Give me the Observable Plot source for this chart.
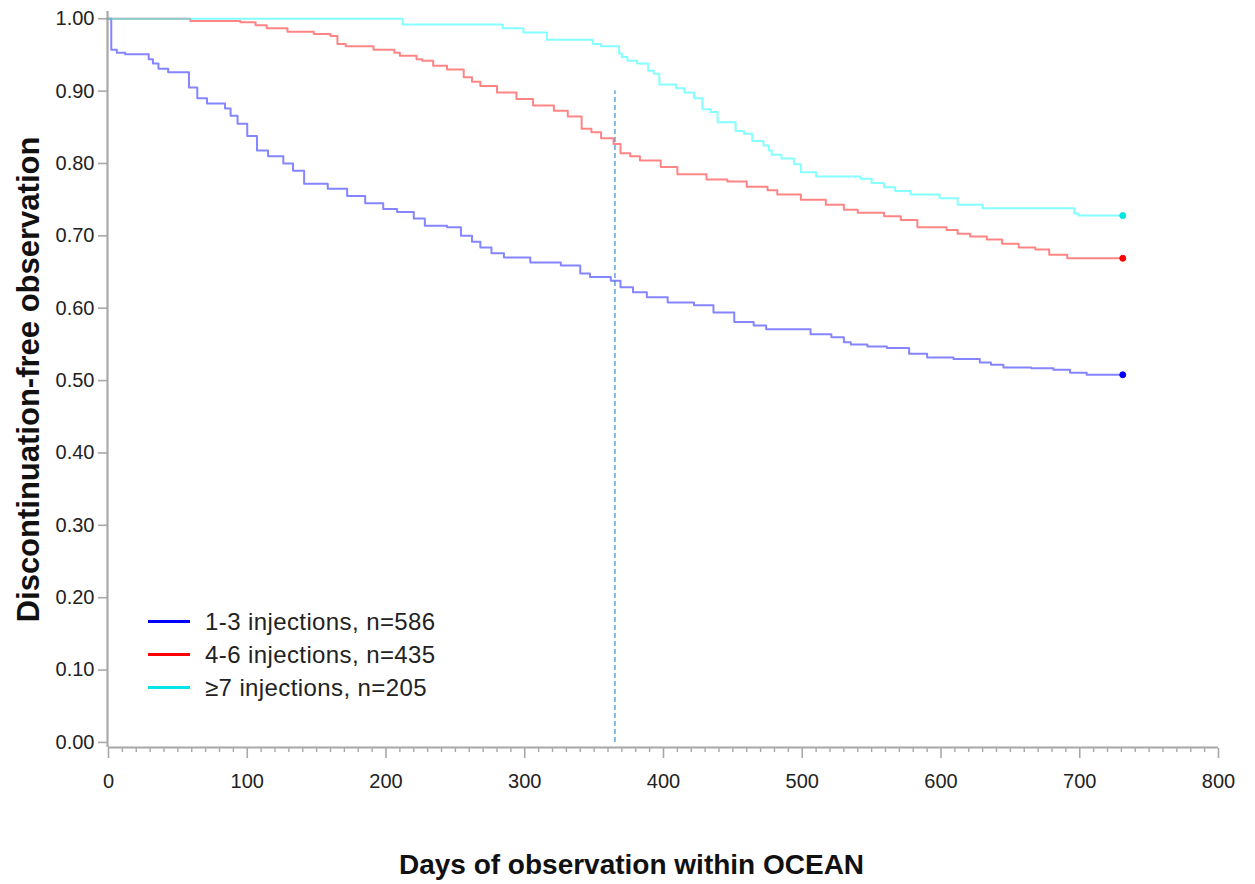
<!DOCTYPE html>
<html>
<head>
<meta charset="utf-8">
<script src="https://cdn.jsdelivr.net/npm/d3@7"></script>
<script src="https://cdn.jsdelivr.net/npm/@observablehq/plot@0.6"></script>
<style>
  html, body { margin: 0; padding: 0; background: #fff; }
  #wrap { position: relative; width: 1255px; height: 884px; font-family: "Liberation Sans", Arial, sans-serif; color: #222; }
  #legend { position: absolute; left: 148px; top: 605px; }
  .row { display: flex; align-items: center; height: 33px; }
  .sw { width: 42px; height: 2.5px; margin-right: 15px; }
  .lab { font-size: 24px; letter-spacing: 0.4px; color: #222; white-space: nowrap; }
</style>
</head>
<body>
<div id="wrap"><div id="legend"></div></div>
<script>
// ---- data ----
const groups = ["1-3 injections, n=586", "4-6 injections, n=435", "\u22657 injections, n=205"];
const lineColors = ["#3333ff", "#ff3333", "#33ffff"];
const legendColors = ["#0000ff", "#ff0000", "#00e5e5"];

const days1_3 = [0, 2, 6, 12, 29, 32, 36, 43, 58, 64, 71, 84, 88, 93, 100, 107, 115, 126, 133, 141, 158, 172, 185, 198, 208, 220, 228, 244, 254, 262, 268, 276, 285, 304, 326, 340, 347, 362, 369, 378, 388, 403, 422, 436, 451, 465, 474, 506, 521, 530, 535, 547, 561, 577, 590, 609, 628, 636, 645, 665, 681, 693, 705, 731];
const surv1_3 = [1.0, 0.957, 0.953, 0.951, 0.944, 0.938, 0.931, 0.926, 0.905, 0.890, 0.883, 0.876, 0.866, 0.855, 0.838, 0.818, 0.810, 0.800, 0.790, 0.772, 0.765, 0.755, 0.745, 0.737, 0.733, 0.724, 0.714, 0.712, 0.700, 0.692, 0.684, 0.676, 0.670, 0.663, 0.659, 0.648, 0.643, 0.638, 0.629, 0.622, 0.615, 0.608, 0.604, 0.594, 0.581, 0.576, 0.571, 0.564, 0.560, 0.553, 0.550, 0.547, 0.545, 0.537, 0.532, 0.530, 0.525, 0.522, 0.518, 0.517, 0.515, 0.511, 0.508, 0.508];

const days4_6 = [0, 59, 95, 106, 114, 129, 148, 160, 165, 171, 191, 206, 210, 222, 226, 234, 244, 256, 262, 268, 280, 294, 306, 321, 331, 341, 348, 355, 364, 369, 376, 383, 398, 410, 431, 446, 460, 475, 482, 499, 517, 530, 540, 559, 571, 583, 604, 612, 621, 633, 644, 656, 668, 678, 691, 731];
const surv4_6 = [1.0, 0.997, 0.995, 0.991, 0.987, 0.982, 0.979, 0.976, 0.965, 0.962, 0.957, 0.953, 0.949, 0.944, 0.942, 0.935, 0.930, 0.919, 0.913, 0.907, 0.898, 0.889, 0.880, 0.873, 0.865, 0.848, 0.843, 0.835, 0.827, 0.814, 0.810, 0.804, 0.795, 0.785, 0.778, 0.775, 0.768, 0.763, 0.757, 0.750, 0.743, 0.736, 0.732, 0.727, 0.722, 0.712, 0.708, 0.703, 0.699, 0.695, 0.689, 0.684, 0.681, 0.674, 0.669, 0.669];

const days7 = [0, 212, 284, 299, 316, 349, 355, 368, 370, 374, 381, 389, 393, 397, 409, 415, 422, 428, 434, 439, 452, 458, 464, 472, 476, 478, 485, 494, 499, 510, 542, 550, 559, 567, 578, 599, 612, 630, 696, 699, 731];
const surv7 = [1.0, 0.992, 0.987, 0.981, 0.971, 0.965, 0.962, 0.952, 0.947, 0.942, 0.938, 0.928, 0.924, 0.909, 0.904, 0.898, 0.890, 0.875, 0.871, 0.857, 0.845, 0.841, 0.831, 0.825, 0.818, 0.812, 0.807, 0.799, 0.788, 0.782, 0.779, 0.773, 0.767, 0.762, 0.757, 0.752, 0.743, 0.738, 0.731, 0.728, 0.728];

const censorDay = 731;
const landmarkDay = 365;
const landmarkTop = 0.90;

const xTicks = [0, 100, 200, 300, 400, 500, 600, 700, 800];
const xMinorTicks = d3.range(0, 801, 10).filter(d => d % 100 !== 0);
const yTicks = [0, 0.1, 0.2, 0.3, 0.4, 0.5, 0.6, 0.7, 0.8, 0.9, 1.0];
const xDomain = [0, 800];
const yDomain = [-0.007, 1.01];

const yTitle = "Discontinuation-free observation";
const xTitle = "Days of observation within OCEAN";

// ---- build table ----
const series = [[days1_3, surv1_3], [days4_6, surv4_6], [days7, surv7]];
const rows = [];
const ends = [];
series.forEach(([ds, ss], i) => {
  ds.forEach((d, j) => rows.push({group: groups[i], day: d, surv: ss[j]}));
  ends.push({group: groups[i], day: censorDay, surv: ss[ss.length - 1]});
});

const axisGray = "#a8a8a8";
const font = "'Liberation Sans', Arial, sans-serif";

const chart = Plot.plot({
  width: 1255,
  height: 884,
  marginLeft: 108,
  marginRight: 37,
  marginTop: 11,
  marginBottom: 137,
  style: {fontFamily: font, color: "#222", background: "#fff", overflow: "visible"},
  x: {domain: xDomain, label: null},
  y: {domain: yDomain, label: null},
  color: {domain: groups, range: lineColors},
  marks: [
    // axis lines
    Plot.ruleX([xDomain[0]], {y1: yDomain[0], y2: yDomain[1], stroke: axisGray, strokeWidth: 2.2, dx: -1}),
    Plot.ruleY([yDomain[0]], {x1: xDomain[0], x2: xDomain[1], stroke: axisGray, strokeWidth: 2.2}),
    // y ticks & labels
    Plot.axisY(yTicks, {tickSize: 9, text: null, label: null, stroke: axisGray, strokeWidth: 1.6, dx: -1}),
    Plot.axisY(yTicks, {tickSize: 0, tickPadding: 14, label: null, tickFormat: d3.format(".2f"), fontSize: 20, fill: "#222"}),
    // x ticks & labels
    Plot.axisX(xTicks, {tickSize: 10, text: null, label: null, stroke: axisGray, strokeWidth: 1.6, dy: 1}),
    Plot.axisX(xMinorTicks, {tickSize: 4, text: null, label: null, stroke: axisGray, strokeWidth: 1.4, dy: 1}),
    Plot.axisX(xTicks, {tickSize: 0, tickPadding: 26, label: null, fontSize: 20, fill: "#222"}),
    // landmark line
    Plot.ruleX([landmarkDay], {y1: 0, y2: landmarkTop, stroke: "#5b9bd5", strokeWidth: 1.4, strokeDasharray: "5,3"}),
    // KM curves
    Plot.line(rows, {x: "day", y: "surv", z: "group", stroke: "group", curve: "step-after", strokeWidth: 2, strokeOpacity: 0.6}),
    Plot.dot(ends, {x: "day", y: "surv", fill: (d, i) => legendColors[i], stroke: (d, i) => legendColors[i], r: 3, strokeWidth: 1}),
    // titles
    Plot.text([yTitle], {frameAnchor: "left", textAnchor: "middle", rotate: -90, dx: -79, fontSize: 31, fontWeight: "bold", fill: "#111"}),
    Plot.text([xTitle], {frameAnchor: "bottom", textAnchor: "middle", dx: -32, dy: 126, fontSize: 28, fontWeight: "bold", fill: "#111"})
  ]
});

const wrap = document.getElementById("wrap");
wrap.insertBefore(chart, wrap.firstChild);

const legend = document.getElementById("legend");
groups.forEach((g, i) => {
  const row = document.createElement("div");
  row.className = "row";
  const sw = document.createElement("div");
  sw.className = "sw";
  sw.style.background = legendColors[i];
  const lab = document.createElement("span");
  lab.className = "lab";
  lab.textContent = g;
  row.appendChild(sw);
  row.appendChild(lab);
  legend.appendChild(row);
});
</script>
</body>
</html>
